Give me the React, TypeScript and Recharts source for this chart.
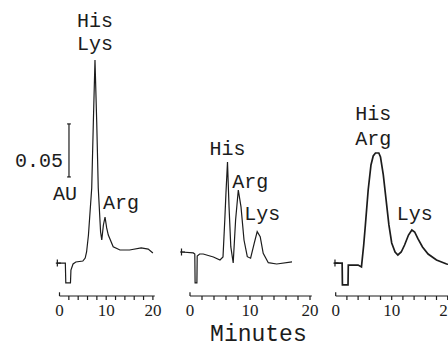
import React from 'react';
import { LineChart, Line, XAxis, YAxis, ReferenceLine, ReferenceDot } from 'recharts';

// ---- data (minutes, absorbance in mAU above an arbitrary offset) ----
const tickMinutes = [0, 2, 4, 6, 8, 10, 12, 14, 16, 18, 20];
const labelledMinutes = [0, 10, 20];
const xAxisTitle = 'Minutes';
const scaleBarLabel = '0.05';
const scaleBarUnit = 'AU';
const scaleBarMAU = 50;

const p1Minutes = [-0.3, 1.25, 1.35, 2.35, 2.45, 2.9, 3.5, 5.0, 5.5, 5.8, 6.2, 6.9, 7.25, 7.6, 7.97, 8.3, 8.8, 9.05, 9.4, 9.75, 10.1, 10.45, 11.5, 12.95, 15.0, 17.5, 19.0, 20.0];
const p1Absorbance = [31.1, 31.1, 12.3, 12.3, 24.5, 30.2, 32.1, 33.0, 35.8, 41.5, 57.5, 101.9, 164.2, 222.6, 164.2, 101.9, 60.4, 52.8, 67.0, 74.5, 64.2, 57.5, 46.5, 43.4, 43.4, 45.3, 44.3, 40.6];

const p2Minutes = [-1.4, 0.55, 0.8, 0.85, 1.15, 1.2, 1.6, 2.2, 3.9, 5.0, 5.5, 5.8, 6.0, 6.25, 6.5, 6.8, 7.2, 7.6, 8.05, 8.5, 9.0, 9.55, 10.1, 10.7, 11.2, 11.7, 12.2, 13.05, 14.45, 17.0];
const p2Absorbance = [41.5, 40.6, 39.6, 12.3, 12.3, 37.7, 39.6, 39.6, 36.8, 34.0, 36.8, 72.0, 98.0, 126.4, 85.0, 46.5, 31.1, 71.7, 100.0, 84.0, 52.8, 37.1, 35.6, 49.7, 60.7, 55.9, 40.3, 31.4, 30.2, 32.1];

const p3Minutes = [-0.2, 1.15, 1.2, 2.2, 2.25, 4.0, 4.6, 5.0, 5.3, 5.8, 6.3, 6.7, 7.1, 7.7, 8.0, 8.5, 9.0, 9.5, 10.0, 10.6, 11.1, 11.7, 12.3, 13.0, 13.6, 14.1, 14.7, 15.5, 16.5, 18.0, 19.8, 21.0];
const p3Absorbance = [31.1, 31.1, 10.4, 10.4, 29.2, 29.2, 27.4, 48.1, 67.0, 100.0, 123.6, 132.1, 134.9, 134.9, 131.1, 114.2, 90.6, 67.0, 50.0, 41.5, 38.7, 41.5, 48.1, 57.5, 62.3, 60.4, 53.8, 46.2, 39.6, 34.0, 30.2, 29.0];

// ---- styling ----
const INK = '#1c1c1c';
const MONO = '"Courier New", "Liberation Mono", monospace';
const SERIF = '"Times New Roman", "Liberation Serif", serif';
const H = 347;
const AXIS_BOTTOM = 296;
const Y_MAX = 279.2;

function MinuteTick(props: any) {
  const { x, y, payload } = props;
  const v = payload.value;
  return (
    <g>
      {v !== 0 && <line x1={x} x2={x} y1={y} y2={y + 4} stroke={INK} strokeWidth={1.2} />}
      {labelledMinutes.includes(v) && (
        <text x={x} y={y + 20} textAnchor="middle" fontFamily={SERIF} fontSize={17} fill={INK}>
          {v}
        </text>
      )}
    </g>
  );
}

type Line_ = { text: string; dx: number; dy: number; anchor?: 'start' | 'middle' | 'end'; size?: number };

function textMark(key: string, x: number, y: number, lines: Line_[]) {
  return (
    <ReferenceDot
      key={key}
      x={x}
      y={y}
      r={0}
      ifOverflow="visible"
      shape={(p: any) => (
        <g>
          {lines.map((l, i) => (
            <text
              key={i}
              x={p.cx + l.dx}
              y={p.cy + l.dy}
              textAnchor={l.anchor ?? 'middle'}
              fontFamily={MONO}
              fontSize={l.size ?? 20}
              fill={INK}
            >
              {l.text}
            </text>
          ))}
        </g>
      )}
    />
  );
}

function plusMark(key: string, x: number, y: number) {
  return (
    <ReferenceDot
      key={key}
      x={x}
      y={y}
      r={0}
      ifOverflow="visible"
      shape={(p: any) => (
        <path d={`M${p.cx - 2.5},${p.cy}h5M${p.cx - 1},${p.cy - 3.5}v7`} stroke={INK} strokeWidth={1.2} fill="none" />
      )}
    />
  );
}

function Panel(props: any) {
  const { minutes, absorbance, domain, plotLeft, plotRight, chartWidth, axisEnd, strokeWidth, children } = props;
  const data = minutes.map((t: number, i: number) => ({ t, a: absorbance[i] }));
  return (
    <div style={{ position: 'absolute', left: 0, top: 0 }}>
      <LineChart
        width={chartWidth}
        height={H}
        data={data}
        margin={{ top: 0, bottom: H - AXIS_BOTTOM - 30, left: plotLeft, right: chartWidth - plotRight }}
      >
        <XAxis
          dataKey="t"
          type="number"
          domain={domain}
          ticks={tickMinutes}
          interval={0}
          axisLine={false}
          tickLine={false}
          tickSize={0}
          tickMargin={0}
          height={30}
          tick={<MinuteTick />}
          allowDataOverflow
        />
        <YAxis hide type="number" domain={[0, Y_MAX]} allowDataOverflow />
        <ReferenceLine segment={[{ x: 0, y: 0 }, { x: axisEnd, y: 0 }]} stroke={INK} strokeWidth={1.2} ifOverflow="visible" />
        <ReferenceLine segment={[{ x: 0, y: 0 }, { x: 0, y: 3.5 }]} stroke={INK} strokeWidth={1.2} ifOverflow="visible" />
        <Line dataKey="a" type="linear" stroke={INK} strokeWidth={strokeWidth} dot={false} isAnimationActive={false} />
        {children}
      </LineChart>
    </div>
  );
}

export default function App() {
  const barX = 2.03;
  const barBottom = 112.3;
  return (
    <div style={{ position: 'absolute', left: 0, top: 0, width: 448, height: 347, overflow: 'hidden', background: '#fff' }}>
      <Panel minutes={p1Minutes} absorbance={p1Absorbance} domain={[-1, 21.5]} plotLeft={54.83} plotRight={159.9} chartWidth={180} axisEnd={20.4} strokeWidth={1.2}>
        {plusMark('p1plus', -0.25, 31.1)}
        {textMark('p1his', 7.6, 222.6, [
          { text: 'His', dx: 0, dy: -33 },
          { text: 'Lys', dx: 0, dy: -10 },
        ])}
        {textMark('p1arg', 9.75, 74.5, [{ text: 'Arg', dx: 16, dy: -8 }])}
        <ReferenceLine segment={[{ x: barX, y: barBottom }, { x: barX, y: barBottom + scaleBarMAU }]} stroke={INK} strokeWidth={1.2} ifOverflow="visible" />
        <ReferenceLine segment={[{ x: barX - 0.4, y: barBottom }, { x: barX + 0.4, y: barBottom }]} stroke={INK} strokeWidth={1.2} ifOverflow="visible" />
        <ReferenceLine segment={[{ x: barX - 0.4, y: barBottom + scaleBarMAU }, { x: barX + 0.4, y: barBottom + scaleBarMAU }]} stroke={INK} strokeWidth={1.2} ifOverflow="visible" />
        {textMark('p1bar', barX, barBottom, [
          { text: scaleBarLabel, dx: -6, dy: -10, anchor: 'end' },
          { text: scaleBarUnit, dx: -4, dy: 23 },
        ])}
      </Panel>
      <Panel minutes={p2Minutes} absorbance={p2Absorbance} domain={[-2, 21]} plotLeft={178} plotRight={316} chartWidth={330} axisEnd={20.3} strokeWidth={1.2}>
        {plusMark('p2plus', -1.25, 41.5)}
        {textMark('p2his', 6.25, 126.4, [{ text: 'His', dx: 0, dy: -7 }])}
        {textMark('p2arg', 8.05, 100.0, [{ text: 'Arg', dx: 12, dy: -2 }])}
        {textMark('p2lys', 11.2, 60.7, [{ text: 'Lys', dx: 5, dy: -12 }])}
        {textMark('p2title', 11.4, 0, [{ text: xAxisTitle, dx: 0, dy: 45, size: 23 }])}
      </Panel>
      <Panel minutes={p3Minutes} absorbance={p3Absorbance} domain={[-1, 22]} plotLeft={330.1} plotRight={458.9} chartWidth={470} axisEnd={22} strokeWidth={1.7}>
        {plusMark('p3plus', 0.05, 31.1)}
        {textMark('p3his', 7.4, 134.9, [
          { text: 'His', dx: -4, dy: -33 },
          { text: 'Arg', dx: -4, dy: -8 },
        ])}
        {textMark('p3lys', 13.6, 62.3, [{ text: 'Lys', dx: 3, dy: -10 }])}
      </Panel>
    </div>
  );
}
